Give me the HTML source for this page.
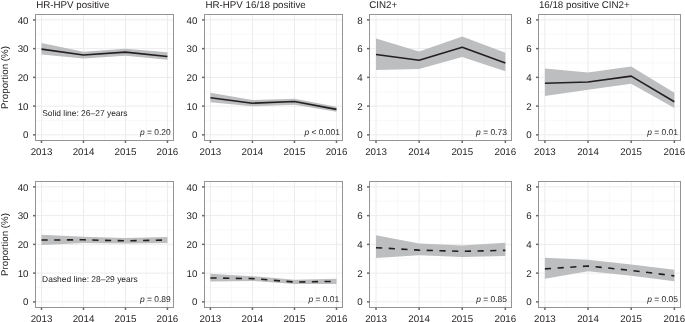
<!DOCTYPE html>
<html><head><meta charset="utf-8"><style>
html,body{margin:0;padding:0;background:#fff;}
svg{display:block;will-change:transform;}
text{font-family:"Liberation Sans",sans-serif;fill:#231f20;text-rendering:geometricPrecision;}
</style></head><body>
<svg width="685" height="322" viewBox="0 0 685 322">
<rect width="685" height="322" fill="#fff"/>
<line x1="62.49" y1="14.5" x2="62.49" y2="140.5" stroke="#f4f4f4" stroke-width="0.6"/>
<line x1="104.47" y1="14.5" x2="104.47" y2="140.5" stroke="#f4f4f4" stroke-width="0.6"/>
<line x1="146.46" y1="14.5" x2="146.46" y2="140.5" stroke="#f4f4f4" stroke-width="0.6"/>
<line x1="35.5" y1="120.48" x2="173.5" y2="120.48" stroke="#f4f4f4" stroke-width="0.6"/>
<line x1="35.5" y1="91.74" x2="173.5" y2="91.74" stroke="#f4f4f4" stroke-width="0.6"/>
<line x1="35.5" y1="63.01" x2="173.5" y2="63.01" stroke="#f4f4f4" stroke-width="0.6"/>
<line x1="35.5" y1="34.27" x2="173.5" y2="34.27" stroke="#f4f4f4" stroke-width="0.6"/>
<line x1="41.5" y1="14.5" x2="41.5" y2="140.5" stroke="#ececec" stroke-width="1"/>
<line x1="83.48" y1="14.5" x2="83.48" y2="140.5" stroke="#ececec" stroke-width="1"/>
<line x1="125.47" y1="14.5" x2="125.47" y2="140.5" stroke="#ececec" stroke-width="1"/>
<line x1="167.45" y1="14.5" x2="167.45" y2="140.5" stroke="#ececec" stroke-width="1"/>
<line x1="35.5" y1="134.85" x2="173.5" y2="134.85" stroke="#ececec" stroke-width="1"/>
<line x1="35.5" y1="106.11" x2="173.5" y2="106.11" stroke="#ececec" stroke-width="1"/>
<line x1="35.5" y1="77.38" x2="173.5" y2="77.38" stroke="#ececec" stroke-width="1"/>
<line x1="35.5" y1="48.64" x2="173.5" y2="48.64" stroke="#ececec" stroke-width="1"/>
<line x1="35.5" y1="19.9" x2="173.5" y2="19.9" stroke="#ececec" stroke-width="1"/>
<polygon points="41.5,43 83.48,51.8 125.47,48.7 167.45,52.3 167.45,59.8 125.47,55.7 83.48,58.4 41.5,54.4" fill="#bdbec0"/>
<polyline points="41.5,49.1 83.48,54.96 125.47,52.1 167.45,56.45" fill="none" stroke="#231f20" stroke-width="1.6" stroke-linejoin="round"/>
<rect x="35.5" y="14.5" width="138" height="126" fill="none" stroke="#949494" stroke-width="1"/>
<line x1="33" y1="134.85" x2="35.5" y2="134.85" stroke="#6a6a6a" stroke-width="1.5"/>
<text x="28.5" y="138.45" text-anchor="end" font-size="9.75">0</text>
<line x1="33" y1="106.11" x2="35.5" y2="106.11" stroke="#6a6a6a" stroke-width="1.5"/>
<text x="28.5" y="109.71" text-anchor="end" font-size="9.75">10</text>
<line x1="33" y1="77.38" x2="35.5" y2="77.38" stroke="#6a6a6a" stroke-width="1.5"/>
<text x="28.5" y="80.97" text-anchor="end" font-size="9.75">20</text>
<line x1="33" y1="48.64" x2="35.5" y2="48.64" stroke="#6a6a6a" stroke-width="1.5"/>
<text x="28.5" y="52.24" text-anchor="end" font-size="9.75">30</text>
<line x1="33" y1="19.9" x2="35.5" y2="19.9" stroke="#6a6a6a" stroke-width="1.5"/>
<text x="28.5" y="23.5" text-anchor="end" font-size="9.75">40</text>
<line x1="41.5" y1="140.5" x2="41.5" y2="143" stroke="#6a6a6a" stroke-width="1.5"/>
<text x="41.5" y="155" text-anchor="middle" font-size="9.75">2013</text>
<line x1="83.48" y1="140.5" x2="83.48" y2="143" stroke="#6a6a6a" stroke-width="1.5"/>
<text x="83.48" y="155" text-anchor="middle" font-size="9.75">2014</text>
<line x1="125.47" y1="140.5" x2="125.47" y2="143" stroke="#6a6a6a" stroke-width="1.5"/>
<text x="125.47" y="155" text-anchor="middle" font-size="9.75">2015</text>
<line x1="167.45" y1="140.5" x2="167.45" y2="143" stroke="#6a6a6a" stroke-width="1.5"/>
<text x="167.45" y="155" text-anchor="middle" font-size="9.75">2016</text>
<text x="139.9" y="134.7" font-size="8.45"><tspan font-style="italic">p</tspan> = 0.20</text>
<text x="36.2" y="7.6" font-size="9.75">HR-HPV positive</text>
<line x1="231.42" y1="14.5" x2="231.42" y2="140.5" stroke="#f4f4f4" stroke-width="0.6"/>
<line x1="273.45" y1="14.5" x2="273.45" y2="140.5" stroke="#f4f4f4" stroke-width="0.6"/>
<line x1="315.48" y1="14.5" x2="315.48" y2="140.5" stroke="#f4f4f4" stroke-width="0.6"/>
<line x1="204.5" y1="120.48" x2="342.5" y2="120.48" stroke="#f4f4f4" stroke-width="0.6"/>
<line x1="204.5" y1="91.74" x2="342.5" y2="91.74" stroke="#f4f4f4" stroke-width="0.6"/>
<line x1="204.5" y1="63.01" x2="342.5" y2="63.01" stroke="#f4f4f4" stroke-width="0.6"/>
<line x1="204.5" y1="34.27" x2="342.5" y2="34.27" stroke="#f4f4f4" stroke-width="0.6"/>
<line x1="210.4" y1="14.5" x2="210.4" y2="140.5" stroke="#ececec" stroke-width="1"/>
<line x1="252.43" y1="14.5" x2="252.43" y2="140.5" stroke="#ececec" stroke-width="1"/>
<line x1="294.47" y1="14.5" x2="294.47" y2="140.5" stroke="#ececec" stroke-width="1"/>
<line x1="336.5" y1="14.5" x2="336.5" y2="140.5" stroke="#ececec" stroke-width="1"/>
<line x1="204.5" y1="134.85" x2="342.5" y2="134.85" stroke="#ececec" stroke-width="1"/>
<line x1="204.5" y1="106.11" x2="342.5" y2="106.11" stroke="#ececec" stroke-width="1"/>
<line x1="204.5" y1="77.38" x2="342.5" y2="77.38" stroke="#ececec" stroke-width="1"/>
<line x1="204.5" y1="48.64" x2="342.5" y2="48.64" stroke="#ececec" stroke-width="1"/>
<line x1="204.5" y1="19.9" x2="342.5" y2="19.9" stroke="#ececec" stroke-width="1"/>
<polygon points="210.4,92.7 252.43,100 294.47,98.7 336.5,106.7 336.5,111.7 294.47,104.7 252.43,106.2 210.4,102.2" fill="#bdbec0"/>
<polyline points="210.4,97.7 252.43,103.2 294.47,101.55 336.5,109.34" fill="none" stroke="#231f20" stroke-width="1.6" stroke-linejoin="round"/>
<rect x="204.5" y="14.5" width="138" height="126" fill="none" stroke="#949494" stroke-width="1"/>
<line x1="202" y1="134.85" x2="204.5" y2="134.85" stroke="#6a6a6a" stroke-width="1.5"/>
<text x="197.4" y="138.45" text-anchor="end" font-size="9.75">0</text>
<line x1="202" y1="106.11" x2="204.5" y2="106.11" stroke="#6a6a6a" stroke-width="1.5"/>
<text x="197.4" y="109.71" text-anchor="end" font-size="9.75">10</text>
<line x1="202" y1="77.38" x2="204.5" y2="77.38" stroke="#6a6a6a" stroke-width="1.5"/>
<text x="197.4" y="80.97" text-anchor="end" font-size="9.75">20</text>
<line x1="202" y1="48.64" x2="204.5" y2="48.64" stroke="#6a6a6a" stroke-width="1.5"/>
<text x="197.4" y="52.24" text-anchor="end" font-size="9.75">30</text>
<line x1="202" y1="19.9" x2="204.5" y2="19.9" stroke="#6a6a6a" stroke-width="1.5"/>
<text x="197.4" y="23.5" text-anchor="end" font-size="9.75">40</text>
<line x1="210.4" y1="140.5" x2="210.4" y2="143" stroke="#6a6a6a" stroke-width="1.5"/>
<text x="210.4" y="155" text-anchor="middle" font-size="9.75">2013</text>
<line x1="252.43" y1="140.5" x2="252.43" y2="143" stroke="#6a6a6a" stroke-width="1.5"/>
<text x="252.43" y="155" text-anchor="middle" font-size="9.75">2014</text>
<line x1="294.47" y1="140.5" x2="294.47" y2="143" stroke="#6a6a6a" stroke-width="1.5"/>
<text x="294.47" y="155" text-anchor="middle" font-size="9.75">2015</text>
<line x1="336.5" y1="140.5" x2="336.5" y2="143" stroke="#6a6a6a" stroke-width="1.5"/>
<text x="336.5" y="155" text-anchor="middle" font-size="9.75">2016</text>
<text x="304.4" y="134.7" font-size="8.45"><tspan font-style="italic">p</tspan> < 0.001</text>
<text x="205.5" y="7.6" font-size="9.75">HR-HPV 16/18 positive</text>
<line x1="397.56" y1="14.5" x2="397.56" y2="140.5" stroke="#f4f4f4" stroke-width="0.6"/>
<line x1="440.68" y1="14.5" x2="440.68" y2="140.5" stroke="#f4f4f4" stroke-width="0.6"/>
<line x1="483.79" y1="14.5" x2="483.79" y2="140.5" stroke="#f4f4f4" stroke-width="0.6"/>
<line x1="369.5" y1="120.48" x2="511.5" y2="120.48" stroke="#f4f4f4" stroke-width="0.6"/>
<line x1="369.5" y1="91.74" x2="511.5" y2="91.74" stroke="#f4f4f4" stroke-width="0.6"/>
<line x1="369.5" y1="63.01" x2="511.5" y2="63.01" stroke="#f4f4f4" stroke-width="0.6"/>
<line x1="369.5" y1="34.27" x2="511.5" y2="34.27" stroke="#f4f4f4" stroke-width="0.6"/>
<line x1="376" y1="14.5" x2="376" y2="140.5" stroke="#ececec" stroke-width="1"/>
<line x1="419.12" y1="14.5" x2="419.12" y2="140.5" stroke="#ececec" stroke-width="1"/>
<line x1="462.23" y1="14.5" x2="462.23" y2="140.5" stroke="#ececec" stroke-width="1"/>
<line x1="505.35" y1="14.5" x2="505.35" y2="140.5" stroke="#ececec" stroke-width="1"/>
<line x1="369.5" y1="134.85" x2="511.5" y2="134.85" stroke="#ececec" stroke-width="1"/>
<line x1="369.5" y1="106.11" x2="511.5" y2="106.11" stroke="#ececec" stroke-width="1"/>
<line x1="369.5" y1="77.38" x2="511.5" y2="77.38" stroke="#ececec" stroke-width="1"/>
<line x1="369.5" y1="48.64" x2="511.5" y2="48.64" stroke="#ececec" stroke-width="1"/>
<line x1="369.5" y1="19.9" x2="511.5" y2="19.9" stroke="#ececec" stroke-width="1"/>
<polygon points="376,38.47 419.12,51.4 462.23,36.5 505.35,52.8 505.35,71.2 462.23,56.9 419.12,68.9 376,69.9" fill="#bdbec0"/>
<polyline points="376,54.5 419.12,60.3 462.23,47.35 505.35,63" fill="none" stroke="#231f20" stroke-width="1.6" stroke-linejoin="round"/>
<rect x="369.5" y="14.5" width="142" height="126" fill="none" stroke="#949494" stroke-width="1"/>
<line x1="367" y1="134.85" x2="369.5" y2="134.85" stroke="#6a6a6a" stroke-width="1.5"/>
<text x="362.6" y="138.45" text-anchor="end" font-size="9.75">0</text>
<line x1="367" y1="106.11" x2="369.5" y2="106.11" stroke="#6a6a6a" stroke-width="1.5"/>
<text x="362.6" y="109.71" text-anchor="end" font-size="9.75">2</text>
<line x1="367" y1="77.38" x2="369.5" y2="77.38" stroke="#6a6a6a" stroke-width="1.5"/>
<text x="362.6" y="80.97" text-anchor="end" font-size="9.75">4</text>
<line x1="367" y1="48.64" x2="369.5" y2="48.64" stroke="#6a6a6a" stroke-width="1.5"/>
<text x="362.6" y="52.24" text-anchor="end" font-size="9.75">6</text>
<line x1="367" y1="19.9" x2="369.5" y2="19.9" stroke="#6a6a6a" stroke-width="1.5"/>
<text x="362.6" y="23.5" text-anchor="end" font-size="9.75">8</text>
<line x1="376" y1="140.5" x2="376" y2="143" stroke="#6a6a6a" stroke-width="1.5"/>
<text x="376" y="155" text-anchor="middle" font-size="9.75">2013</text>
<line x1="419.12" y1="140.5" x2="419.12" y2="143" stroke="#6a6a6a" stroke-width="1.5"/>
<text x="419.12" y="155" text-anchor="middle" font-size="9.75">2014</text>
<line x1="462.23" y1="140.5" x2="462.23" y2="143" stroke="#6a6a6a" stroke-width="1.5"/>
<text x="462.23" y="155" text-anchor="middle" font-size="9.75">2015</text>
<line x1="505.35" y1="140.5" x2="505.35" y2="143" stroke="#6a6a6a" stroke-width="1.5"/>
<text x="505.35" y="155" text-anchor="middle" font-size="9.75">2016</text>
<text x="476.1" y="134.7" font-size="8.45"><tspan font-style="italic">p</tspan> = 0.73</text>
<text x="369.3" y="7.6" font-size="9.75">CIN2+</text>
<line x1="566.48" y1="14.5" x2="566.48" y2="140.5" stroke="#f4f4f4" stroke-width="0.6"/>
<line x1="609.62" y1="14.5" x2="609.62" y2="140.5" stroke="#f4f4f4" stroke-width="0.6"/>
<line x1="652.78" y1="14.5" x2="652.78" y2="140.5" stroke="#f4f4f4" stroke-width="0.6"/>
<line x1="538.5" y1="120.48" x2="680.5" y2="120.48" stroke="#f4f4f4" stroke-width="0.6"/>
<line x1="538.5" y1="91.74" x2="680.5" y2="91.74" stroke="#f4f4f4" stroke-width="0.6"/>
<line x1="538.5" y1="63.01" x2="680.5" y2="63.01" stroke="#f4f4f4" stroke-width="0.6"/>
<line x1="538.5" y1="34.27" x2="680.5" y2="34.27" stroke="#f4f4f4" stroke-width="0.6"/>
<line x1="544.9" y1="14.5" x2="544.9" y2="140.5" stroke="#ececec" stroke-width="1"/>
<line x1="588.05" y1="14.5" x2="588.05" y2="140.5" stroke="#ececec" stroke-width="1"/>
<line x1="631.2" y1="14.5" x2="631.2" y2="140.5" stroke="#ececec" stroke-width="1"/>
<line x1="674.35" y1="14.5" x2="674.35" y2="140.5" stroke="#ececec" stroke-width="1"/>
<line x1="538.5" y1="134.85" x2="680.5" y2="134.85" stroke="#ececec" stroke-width="1"/>
<line x1="538.5" y1="106.11" x2="680.5" y2="106.11" stroke="#ececec" stroke-width="1"/>
<line x1="538.5" y1="77.38" x2="680.5" y2="77.38" stroke="#ececec" stroke-width="1"/>
<line x1="538.5" y1="48.64" x2="680.5" y2="48.64" stroke="#ececec" stroke-width="1"/>
<line x1="538.5" y1="19.9" x2="680.5" y2="19.9" stroke="#ececec" stroke-width="1"/>
<polygon points="544.9,68.47 588.05,72.6 631.2,66.4 674.35,92.7 674.35,108.1 631.2,83.8 588.05,89.7 544.9,95.9" fill="#bdbec0"/>
<polyline points="544.9,83.3 588.05,82 631.2,76.1 674.35,101.7" fill="none" stroke="#231f20" stroke-width="1.6" stroke-linejoin="round"/>
<rect x="538.5" y="14.5" width="142" height="126" fill="none" stroke="#949494" stroke-width="1"/>
<line x1="536" y1="134.85" x2="538.5" y2="134.85" stroke="#6a6a6a" stroke-width="1.5"/>
<text x="531.6" y="138.45" text-anchor="end" font-size="9.75">0</text>
<line x1="536" y1="106.11" x2="538.5" y2="106.11" stroke="#6a6a6a" stroke-width="1.5"/>
<text x="531.6" y="109.71" text-anchor="end" font-size="9.75">2</text>
<line x1="536" y1="77.38" x2="538.5" y2="77.38" stroke="#6a6a6a" stroke-width="1.5"/>
<text x="531.6" y="80.97" text-anchor="end" font-size="9.75">4</text>
<line x1="536" y1="48.64" x2="538.5" y2="48.64" stroke="#6a6a6a" stroke-width="1.5"/>
<text x="531.6" y="52.24" text-anchor="end" font-size="9.75">6</text>
<line x1="536" y1="19.9" x2="538.5" y2="19.9" stroke="#6a6a6a" stroke-width="1.5"/>
<text x="531.6" y="23.5" text-anchor="end" font-size="9.75">8</text>
<line x1="544.9" y1="140.5" x2="544.9" y2="143" stroke="#6a6a6a" stroke-width="1.5"/>
<text x="544.9" y="155" text-anchor="middle" font-size="9.75">2013</text>
<line x1="588.05" y1="140.5" x2="588.05" y2="143" stroke="#6a6a6a" stroke-width="1.5"/>
<text x="588.05" y="155" text-anchor="middle" font-size="9.75">2014</text>
<line x1="631.2" y1="140.5" x2="631.2" y2="143" stroke="#6a6a6a" stroke-width="1.5"/>
<text x="631.2" y="155" text-anchor="middle" font-size="9.75">2015</text>
<line x1="674.35" y1="140.5" x2="674.35" y2="143" stroke="#6a6a6a" stroke-width="1.5"/>
<text x="674.35" y="155" text-anchor="middle" font-size="9.75">2016</text>
<text x="647.2" y="134.7" font-size="8.45"><tspan font-style="italic">p</tspan> = 0.01</text>
<text x="538.9" y="7.6" font-size="9.75">16/18 positive CIN2+</text>
<text x="7.8" y="77.5" transform="rotate(-90 7.8 77.5)" text-anchor="middle" font-size="9.75">Proportion (%)</text>
<line x1="62.49" y1="181.5" x2="62.49" y2="307.5" stroke="#f4f4f4" stroke-width="0.6"/>
<line x1="104.47" y1="181.5" x2="104.47" y2="307.5" stroke="#f4f4f4" stroke-width="0.6"/>
<line x1="146.46" y1="181.5" x2="146.46" y2="307.5" stroke="#f4f4f4" stroke-width="0.6"/>
<line x1="35.5" y1="287.48" x2="173.5" y2="287.48" stroke="#f4f4f4" stroke-width="0.6"/>
<line x1="35.5" y1="258.74" x2="173.5" y2="258.74" stroke="#f4f4f4" stroke-width="0.6"/>
<line x1="35.5" y1="230.01" x2="173.5" y2="230.01" stroke="#f4f4f4" stroke-width="0.6"/>
<line x1="35.5" y1="201.27" x2="173.5" y2="201.27" stroke="#f4f4f4" stroke-width="0.6"/>
<line x1="41.5" y1="181.5" x2="41.5" y2="307.5" stroke="#ececec" stroke-width="1"/>
<line x1="83.48" y1="181.5" x2="83.48" y2="307.5" stroke="#ececec" stroke-width="1"/>
<line x1="125.47" y1="181.5" x2="125.47" y2="307.5" stroke="#ececec" stroke-width="1"/>
<line x1="167.45" y1="181.5" x2="167.45" y2="307.5" stroke="#ececec" stroke-width="1"/>
<line x1="35.5" y1="301.85" x2="173.5" y2="301.85" stroke="#ececec" stroke-width="1"/>
<line x1="35.5" y1="273.11" x2="173.5" y2="273.11" stroke="#ececec" stroke-width="1"/>
<line x1="35.5" y1="244.38" x2="173.5" y2="244.38" stroke="#ececec" stroke-width="1"/>
<line x1="35.5" y1="215.64" x2="173.5" y2="215.64" stroke="#ececec" stroke-width="1"/>
<line x1="35.5" y1="186.9" x2="173.5" y2="186.9" stroke="#ececec" stroke-width="1"/>
<polygon points="41.5,234.85 83.48,236.67 125.47,238 167.45,236.9 167.45,243 125.47,243.4 83.48,243 41.5,245.1" fill="#bdbec0"/>
<polyline points="41.5,240.06 83.48,239.8 125.47,240.85 167.45,240" fill="none" stroke="#231f20" stroke-width="1.6" stroke-linejoin="round" stroke-dasharray="6.2 6.5"/>
<rect x="35.5" y="181.5" width="138" height="126" fill="none" stroke="#949494" stroke-width="1"/>
<line x1="33" y1="301.85" x2="35.5" y2="301.85" stroke="#6a6a6a" stroke-width="1.5"/>
<text x="28.5" y="305.45" text-anchor="end" font-size="9.75">0</text>
<line x1="33" y1="273.11" x2="35.5" y2="273.11" stroke="#6a6a6a" stroke-width="1.5"/>
<text x="28.5" y="276.71" text-anchor="end" font-size="9.75">10</text>
<line x1="33" y1="244.38" x2="35.5" y2="244.38" stroke="#6a6a6a" stroke-width="1.5"/>
<text x="28.5" y="247.98" text-anchor="end" font-size="9.75">20</text>
<line x1="33" y1="215.64" x2="35.5" y2="215.64" stroke="#6a6a6a" stroke-width="1.5"/>
<text x="28.5" y="219.24" text-anchor="end" font-size="9.75">30</text>
<line x1="33" y1="186.9" x2="35.5" y2="186.9" stroke="#6a6a6a" stroke-width="1.5"/>
<text x="28.5" y="190.5" text-anchor="end" font-size="9.75">40</text>
<line x1="41.5" y1="307.5" x2="41.5" y2="310" stroke="#6a6a6a" stroke-width="1.5"/>
<text x="41.5" y="322" text-anchor="middle" font-size="9.75">2013</text>
<line x1="83.48" y1="307.5" x2="83.48" y2="310" stroke="#6a6a6a" stroke-width="1.5"/>
<text x="83.48" y="322" text-anchor="middle" font-size="9.75">2014</text>
<line x1="125.47" y1="307.5" x2="125.47" y2="310" stroke="#6a6a6a" stroke-width="1.5"/>
<text x="125.47" y="322" text-anchor="middle" font-size="9.75">2015</text>
<line x1="167.45" y1="307.5" x2="167.45" y2="310" stroke="#6a6a6a" stroke-width="1.5"/>
<text x="167.45" y="322" text-anchor="middle" font-size="9.75">2016</text>
<text x="139.9" y="302.3" font-size="8.45"><tspan font-style="italic">p</tspan> = 0.89</text>
<line x1="231.42" y1="181.5" x2="231.42" y2="307.5" stroke="#f4f4f4" stroke-width="0.6"/>
<line x1="273.45" y1="181.5" x2="273.45" y2="307.5" stroke="#f4f4f4" stroke-width="0.6"/>
<line x1="315.48" y1="181.5" x2="315.48" y2="307.5" stroke="#f4f4f4" stroke-width="0.6"/>
<line x1="204.5" y1="287.48" x2="342.5" y2="287.48" stroke="#f4f4f4" stroke-width="0.6"/>
<line x1="204.5" y1="258.74" x2="342.5" y2="258.74" stroke="#f4f4f4" stroke-width="0.6"/>
<line x1="204.5" y1="230.01" x2="342.5" y2="230.01" stroke="#f4f4f4" stroke-width="0.6"/>
<line x1="204.5" y1="201.27" x2="342.5" y2="201.27" stroke="#f4f4f4" stroke-width="0.6"/>
<line x1="210.4" y1="181.5" x2="210.4" y2="307.5" stroke="#ececec" stroke-width="1"/>
<line x1="252.43" y1="181.5" x2="252.43" y2="307.5" stroke="#ececec" stroke-width="1"/>
<line x1="294.47" y1="181.5" x2="294.47" y2="307.5" stroke="#ececec" stroke-width="1"/>
<line x1="336.5" y1="181.5" x2="336.5" y2="307.5" stroke="#ececec" stroke-width="1"/>
<line x1="204.5" y1="301.85" x2="342.5" y2="301.85" stroke="#ececec" stroke-width="1"/>
<line x1="204.5" y1="273.11" x2="342.5" y2="273.11" stroke="#ececec" stroke-width="1"/>
<line x1="204.5" y1="244.38" x2="342.5" y2="244.38" stroke="#ececec" stroke-width="1"/>
<line x1="204.5" y1="215.64" x2="342.5" y2="215.64" stroke="#ececec" stroke-width="1"/>
<line x1="204.5" y1="186.9" x2="342.5" y2="186.9" stroke="#ececec" stroke-width="1"/>
<polygon points="210.4,273.64 252.43,276.24 294.47,279.8 336.5,278.84 336.5,283.9 294.47,283.9 252.43,280.98 210.4,281.54" fill="#bdbec0"/>
<polyline points="210.4,277.98 252.43,278.6 294.47,282 336.5,281.37" fill="none" stroke="#231f20" stroke-width="1.6" stroke-linejoin="round" stroke-dasharray="6.2 6.5"/>
<rect x="204.5" y="181.5" width="138" height="126" fill="none" stroke="#949494" stroke-width="1"/>
<line x1="202" y1="301.85" x2="204.5" y2="301.85" stroke="#6a6a6a" stroke-width="1.5"/>
<text x="197.4" y="305.45" text-anchor="end" font-size="9.75">0</text>
<line x1="202" y1="273.11" x2="204.5" y2="273.11" stroke="#6a6a6a" stroke-width="1.5"/>
<text x="197.4" y="276.71" text-anchor="end" font-size="9.75">10</text>
<line x1="202" y1="244.38" x2="204.5" y2="244.38" stroke="#6a6a6a" stroke-width="1.5"/>
<text x="197.4" y="247.98" text-anchor="end" font-size="9.75">20</text>
<line x1="202" y1="215.64" x2="204.5" y2="215.64" stroke="#6a6a6a" stroke-width="1.5"/>
<text x="197.4" y="219.24" text-anchor="end" font-size="9.75">30</text>
<line x1="202" y1="186.9" x2="204.5" y2="186.9" stroke="#6a6a6a" stroke-width="1.5"/>
<text x="197.4" y="190.5" text-anchor="end" font-size="9.75">40</text>
<line x1="210.4" y1="307.5" x2="210.4" y2="310" stroke="#6a6a6a" stroke-width="1.5"/>
<text x="210.4" y="322" text-anchor="middle" font-size="9.75">2013</text>
<line x1="252.43" y1="307.5" x2="252.43" y2="310" stroke="#6a6a6a" stroke-width="1.5"/>
<text x="252.43" y="322" text-anchor="middle" font-size="9.75">2014</text>
<line x1="294.47" y1="307.5" x2="294.47" y2="310" stroke="#6a6a6a" stroke-width="1.5"/>
<text x="294.47" y="322" text-anchor="middle" font-size="9.75">2015</text>
<line x1="336.5" y1="307.5" x2="336.5" y2="310" stroke="#6a6a6a" stroke-width="1.5"/>
<text x="336.5" y="322" text-anchor="middle" font-size="9.75">2016</text>
<text x="308.5" y="302.3" font-size="8.45"><tspan font-style="italic">p</tspan> = 0.01</text>
<line x1="397.56" y1="181.5" x2="397.56" y2="307.5" stroke="#f4f4f4" stroke-width="0.6"/>
<line x1="440.68" y1="181.5" x2="440.68" y2="307.5" stroke="#f4f4f4" stroke-width="0.6"/>
<line x1="483.79" y1="181.5" x2="483.79" y2="307.5" stroke="#f4f4f4" stroke-width="0.6"/>
<line x1="369.5" y1="287.48" x2="511.5" y2="287.48" stroke="#f4f4f4" stroke-width="0.6"/>
<line x1="369.5" y1="258.74" x2="511.5" y2="258.74" stroke="#f4f4f4" stroke-width="0.6"/>
<line x1="369.5" y1="230.01" x2="511.5" y2="230.01" stroke="#f4f4f4" stroke-width="0.6"/>
<line x1="369.5" y1="201.27" x2="511.5" y2="201.27" stroke="#f4f4f4" stroke-width="0.6"/>
<line x1="376" y1="181.5" x2="376" y2="307.5" stroke="#ececec" stroke-width="1"/>
<line x1="419.12" y1="181.5" x2="419.12" y2="307.5" stroke="#ececec" stroke-width="1"/>
<line x1="462.23" y1="181.5" x2="462.23" y2="307.5" stroke="#ececec" stroke-width="1"/>
<line x1="505.35" y1="181.5" x2="505.35" y2="307.5" stroke="#ececec" stroke-width="1"/>
<line x1="369.5" y1="301.85" x2="511.5" y2="301.85" stroke="#ececec" stroke-width="1"/>
<line x1="369.5" y1="273.11" x2="511.5" y2="273.11" stroke="#ececec" stroke-width="1"/>
<line x1="369.5" y1="244.38" x2="511.5" y2="244.38" stroke="#ececec" stroke-width="1"/>
<line x1="369.5" y1="215.64" x2="511.5" y2="215.64" stroke="#ececec" stroke-width="1"/>
<line x1="369.5" y1="186.9" x2="511.5" y2="186.9" stroke="#ececec" stroke-width="1"/>
<polygon points="376,235.36 419.12,243.5 462.23,245.5 505.35,242.7 505.35,256 462.23,257 419.12,255.2 376,258" fill="#bdbec0"/>
<polyline points="376,247.68 419.12,250.16 462.23,251.35 505.35,250.36" fill="none" stroke="#231f20" stroke-width="1.6" stroke-linejoin="round" stroke-dasharray="6.2 6.5"/>
<rect x="369.5" y="181.5" width="142" height="126" fill="none" stroke="#949494" stroke-width="1"/>
<line x1="367" y1="301.85" x2="369.5" y2="301.85" stroke="#6a6a6a" stroke-width="1.5"/>
<text x="362.6" y="305.45" text-anchor="end" font-size="9.75">0</text>
<line x1="367" y1="273.11" x2="369.5" y2="273.11" stroke="#6a6a6a" stroke-width="1.5"/>
<text x="362.6" y="276.71" text-anchor="end" font-size="9.75">2</text>
<line x1="367" y1="244.38" x2="369.5" y2="244.38" stroke="#6a6a6a" stroke-width="1.5"/>
<text x="362.6" y="247.98" text-anchor="end" font-size="9.75">4</text>
<line x1="367" y1="215.64" x2="369.5" y2="215.64" stroke="#6a6a6a" stroke-width="1.5"/>
<text x="362.6" y="219.24" text-anchor="end" font-size="9.75">6</text>
<line x1="367" y1="186.9" x2="369.5" y2="186.9" stroke="#6a6a6a" stroke-width="1.5"/>
<text x="362.6" y="190.5" text-anchor="end" font-size="9.75">8</text>
<line x1="376" y1="307.5" x2="376" y2="310" stroke="#6a6a6a" stroke-width="1.5"/>
<text x="376" y="322" text-anchor="middle" font-size="9.75">2013</text>
<line x1="419.12" y1="307.5" x2="419.12" y2="310" stroke="#6a6a6a" stroke-width="1.5"/>
<text x="419.12" y="322" text-anchor="middle" font-size="9.75">2014</text>
<line x1="462.23" y1="307.5" x2="462.23" y2="310" stroke="#6a6a6a" stroke-width="1.5"/>
<text x="462.23" y="322" text-anchor="middle" font-size="9.75">2015</text>
<line x1="505.35" y1="307.5" x2="505.35" y2="310" stroke="#6a6a6a" stroke-width="1.5"/>
<text x="505.35" y="322" text-anchor="middle" font-size="9.75">2016</text>
<text x="476.26" y="302.3" font-size="8.45"><tspan font-style="italic">p</tspan> = 0.85</text>
<line x1="566.48" y1="181.5" x2="566.48" y2="307.5" stroke="#f4f4f4" stroke-width="0.6"/>
<line x1="609.62" y1="181.5" x2="609.62" y2="307.5" stroke="#f4f4f4" stroke-width="0.6"/>
<line x1="652.78" y1="181.5" x2="652.78" y2="307.5" stroke="#f4f4f4" stroke-width="0.6"/>
<line x1="538.5" y1="287.48" x2="680.5" y2="287.48" stroke="#f4f4f4" stroke-width="0.6"/>
<line x1="538.5" y1="258.74" x2="680.5" y2="258.74" stroke="#f4f4f4" stroke-width="0.6"/>
<line x1="538.5" y1="230.01" x2="680.5" y2="230.01" stroke="#f4f4f4" stroke-width="0.6"/>
<line x1="538.5" y1="201.27" x2="680.5" y2="201.27" stroke="#f4f4f4" stroke-width="0.6"/>
<line x1="544.9" y1="181.5" x2="544.9" y2="307.5" stroke="#ececec" stroke-width="1"/>
<line x1="588.05" y1="181.5" x2="588.05" y2="307.5" stroke="#ececec" stroke-width="1"/>
<line x1="631.2" y1="181.5" x2="631.2" y2="307.5" stroke="#ececec" stroke-width="1"/>
<line x1="674.35" y1="181.5" x2="674.35" y2="307.5" stroke="#ececec" stroke-width="1"/>
<line x1="538.5" y1="301.85" x2="680.5" y2="301.85" stroke="#ececec" stroke-width="1"/>
<line x1="538.5" y1="273.11" x2="680.5" y2="273.11" stroke="#ececec" stroke-width="1"/>
<line x1="538.5" y1="244.38" x2="680.5" y2="244.38" stroke="#ececec" stroke-width="1"/>
<line x1="538.5" y1="215.64" x2="680.5" y2="215.64" stroke="#ececec" stroke-width="1"/>
<line x1="538.5" y1="186.9" x2="680.5" y2="186.9" stroke="#ececec" stroke-width="1"/>
<polygon points="544.9,257.76 588.05,259.74 631.2,264.53 674.35,269.7 674.35,281.2 631.2,275.76 588.05,271.3 544.9,278.7" fill="#bdbec0"/>
<polyline points="544.9,268.9 588.05,266 631.2,270.4 674.35,275.85" fill="none" stroke="#231f20" stroke-width="1.6" stroke-linejoin="round" stroke-dasharray="6.2 6.5"/>
<rect x="538.5" y="181.5" width="142" height="126" fill="none" stroke="#949494" stroke-width="1"/>
<line x1="536" y1="301.85" x2="538.5" y2="301.85" stroke="#6a6a6a" stroke-width="1.5"/>
<text x="531.6" y="305.45" text-anchor="end" font-size="9.75">0</text>
<line x1="536" y1="273.11" x2="538.5" y2="273.11" stroke="#6a6a6a" stroke-width="1.5"/>
<text x="531.6" y="276.71" text-anchor="end" font-size="9.75">2</text>
<line x1="536" y1="244.38" x2="538.5" y2="244.38" stroke="#6a6a6a" stroke-width="1.5"/>
<text x="531.6" y="247.98" text-anchor="end" font-size="9.75">4</text>
<line x1="536" y1="215.64" x2="538.5" y2="215.64" stroke="#6a6a6a" stroke-width="1.5"/>
<text x="531.6" y="219.24" text-anchor="end" font-size="9.75">6</text>
<line x1="536" y1="186.9" x2="538.5" y2="186.9" stroke="#6a6a6a" stroke-width="1.5"/>
<text x="531.6" y="190.5" text-anchor="end" font-size="9.75">8</text>
<line x1="544.9" y1="307.5" x2="544.9" y2="310" stroke="#6a6a6a" stroke-width="1.5"/>
<text x="544.9" y="322" text-anchor="middle" font-size="9.75">2013</text>
<line x1="588.05" y1="307.5" x2="588.05" y2="310" stroke="#6a6a6a" stroke-width="1.5"/>
<text x="588.05" y="322" text-anchor="middle" font-size="9.75">2014</text>
<line x1="631.2" y1="307.5" x2="631.2" y2="310" stroke="#6a6a6a" stroke-width="1.5"/>
<text x="631.2" y="322" text-anchor="middle" font-size="9.75">2015</text>
<line x1="674.35" y1="307.5" x2="674.35" y2="310" stroke="#6a6a6a" stroke-width="1.5"/>
<text x="674.35" y="322" text-anchor="middle" font-size="9.75">2016</text>
<text x="647.2" y="302.3" font-size="8.45"><tspan font-style="italic">p</tspan> = 0.05</text>
<text x="7.8" y="244.5" transform="rotate(-90 7.8 244.5)" text-anchor="middle" font-size="9.75">Proportion (%)</text>
<text x="42.2" y="116.4" font-size="8.45">Solid line: 26–27 years</text>
<text x="42.1" y="282.3" font-size="8.45">Dashed line: 28–29 years</text>
</svg>
</body></html>
